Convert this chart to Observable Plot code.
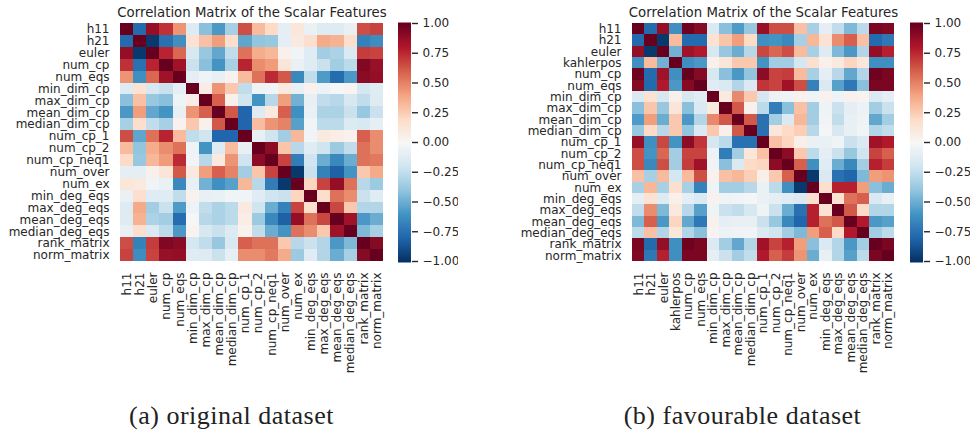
<!DOCTYPE html>
<html>
<head>
<meta charset="utf-8">
<script src="https://cdn.jsdelivr.net/npm/d3@7"></script>
<script src="https://cdn.jsdelivr.net/npm/@observablehq/plot@0.6"></script>
<style>
html,body{margin:0;padding:0;background:#fff;width:971px;height:430px;overflow:hidden}
#page{position:relative;width:971px;height:430px}
#page>div{position:absolute}
#page svg{display:block;background:transparent;max-width:none}
.cap{font-family:"Liberation Serif",serif;font-size:26px;color:#222;white-space:nowrap;text-align:center;letter-spacing:.5px}
</style>
</head>
<body>
<div id="page"></div>
<script>
const chartTitle = "Correlation Matrix of the Scalar Features";
const captionA = "(a) original dataset";
const captionB = "(b) favourable dataset";
const featuresA = ["h11","h21","euler","num_cp","num_eqs","min_dim_cp","max_dim_cp","mean_dim_cp","median_dim_cp","num_cp_1","num_cp_2","num_cp_neq1","num_over","num_ex","min_deg_eqs","max_deg_eqs","mean_deg_eqs","median_deg_eqs","rank_matrix","norm_matrix"];
const featuresB = ["h11","h21","euler","kahlerpos","num_cp","num_eqs","min_dim_cp","max_dim_cp","mean_dim_cp","median_dim_cp","num_cp_1","num_cp_2","num_cp_neq1","num_over","num_ex","min_deg_eqs","max_deg_eqs","mean_deg_eqs","median_deg_eqs","rank_matrix","norm_matrix"];

const matrixA = [
[1,-.78,.88,.73,.45,-.13,-.42,-.58,-.33,.65,.32,.2,-.1,.12,-.07,-.13,-.13,-.08,.65,.68],
[-.78,1,-.97,-.75,-.62,.15,.3,.42,.18,-.53,-.4,-.38,-.1,.1,.17,.38,.35,.18,-.68,-.63],
[.88,-.97,1,.77,.58,-.17,-.38,-.52,-.25,.55,.37,.33,.05,-.03,-.12,-.35,-.32,-.15,.7,.68],
[.73,-.75,.77,1,.85,-.22,-.42,-.6,-.33,.77,.47,.43,.13,-.07,-.12,-.22,-.35,-.27,.93,.87],
[.45,-.62,.58,.85,1,-.1,-.05,-.08,.04,.32,.55,.75,.62,-.65,-.25,-.57,-.77,-.58,.91,.88],
[-.13,.15,-.17,-.22,-.1,1,.08,.45,.27,-.25,-.05,-.03,.1,-.08,.04,-.06,-.01,.03,-.18,-.12],
[-.42,.3,-.38,-.42,-.05,.08,1,.6,.05,-.2,-.6,-.28,.42,-.48,-.08,-.25,-.28,-.17,-.25,-.13],
[-.58,.42,-.52,-.6,-.08,.45,.6,1,.62,-.8,-.13,.1,.6,-.62,-.07,-.32,-.32,-.22,-.38,-.22],
[-.33,.18,-.25,-.33,.04,.27,.05,.62,1,-.8,.31,.45,.5,-.55,-.03,-.27,-.27,-.14,-.16,-.09],
[.65,-.53,.55,.77,.32,-.25,-.2,-.8,-.8,1,-.08,-.2,-.35,.33,-.03,.1,.07,.04,.6,.47],
[.32,-.4,.37,.47,.55,-.05,-.6,-.13,.31,-.08,1,.9,.28,-.28,-.12,-.2,-.37,-.25,.55,.47],
[.2,-.38,.33,.43,.75,-.03,-.28,.1,.45,-.2,.9,1,.68,-.7,-.2,-.5,-.65,-.5,.55,.53],
[-.1,-.1,.05,.13,.62,.1,.42,.6,.5,-.35,.28,.68,1,-.97,-.22,-.68,-.82,-.6,.27,.38],
[.12,.1,-.03,-.07,-.65,-.08,-.48,-.62,-.55,.33,-.28,-.7,-.97,1,.22,.68,.88,.55,-.28,-.37],
[-.07,.17,-.12,-.12,-.25,.04,-.08,-.07,-.03,-.03,-.12,-.2,-.22,.22,1,.18,.55,.47,-.22,-.12],
[-.13,.38,-.35,-.22,-.57,-.06,-.25,-.32,-.27,.1,-.2,-.5,-.68,.68,.18,1,.67,.27,-.3,-.3],
[-.13,.35,-.32,-.35,-.77,-.01,-.28,-.32,-.27,.07,-.37,-.65,-.82,.88,.55,.67,1,.85,-.58,-.5],
[-.08,.18,-.15,-.27,-.58,.03,-.17,-.22,-.14,.04,-.25,-.5,-.6,.55,.47,.27,.85,1,-.45,-.33],
[.65,-.68,.7,.93,.91,-.18,-.25,-.38,-.16,.6,.55,.55,.27,-.28,-.22,-.3,-.58,-.45,1,.92],
[.68,-.63,.68,.87,.88,-.12,-.13,-.22,-.09,.47,.47,.53,.38,-.37,-.12,-.3,-.5,-.33,.92,1]
];

const matrixB = [
[1,-.78,.88,-.62,.98,.92,-.15,-.42,-.57,-.38,.87,.65,.65,.3,-.33,-.1,-.25,-.45,-.27,.95,.93],
[-.78,1,-.97,.32,-.78,-.78,.15,.28,.42,.2,-.62,-.6,-.65,-.33,.33,.15,.47,.6,.3,-.78,-.72],
[.88,-.97,1,-.48,.85,.8,-.17,-.38,-.5,-.28,.67,.58,.65,.32,-.33,-.13,-.45,-.58,-.3,.88,.78],
[-.62,.32,-.48,1,-.62,-.58,.05,.13,.27,.27,-.6,-.35,-.35,-.18,.17,.05,.1,.22,.12,-.62,-.62],
[.98,-.78,.85,-.62,1,.92,-.17,-.42,-.58,-.4,.9,.68,.7,.32,-.33,-.1,-.28,-.52,-.3,.98,.95],
[.92,-.78,.8,-.58,.92,1,-.12,-.15,-.3,-.15,.72,.68,.85,.65,-.68,-.15,-.55,-.72,-.42,.95,.95],
[-.15,.15,-.17,.05,-.17,-.12,1,.1,.48,.27,-.18,-.06,-.04,.04,-.05,.04,-.05,.04,.03,-.15,-.1],
[-.42,.28,-.38,.13,-.42,-.15,.1,1,.62,.05,-.27,-.7,-.42,.3,-.35,-.05,-.22,-.1,-.06,-.35,-.22],
[-.57,.42,-.5,.27,-.58,-.3,.48,.62,1,.62,-.75,-.35,-.15,.33,-.35,-.03,-.25,-.08,-.04,-.52,-.35],
[-.38,.2,-.28,.27,-.4,-.15,.27,.05,.62,1,-.75,.12,.2,.25,-.28,-.02,-.17,-.08,-.03,-.3,-.25],
[.87,-.62,.67,-.6,.9,.72,-.18,-.27,-.75,-.75,1,.3,.22,.06,-.07,-.07,-.05,-.22,-.15,.85,.8],
[.65,-.6,.58,-.35,.68,.68,-.06,-.7,-.35,.12,.3,1,.9,.27,-.27,-.1,-.22,-.38,-.2,.68,.6],
[.65,-.65,.65,-.35,.7,.85,-.04,-.42,-.15,.2,.22,.9,1,.6,-.62,-.12,-.5,-.65,-.35,.78,.7],
[.3,-.33,.32,-.18,.32,.65,.04,.3,.33,.25,.06,.27,.6,1,-.97,-.15,-.75,-.8,-.45,.42,.45],
[-.33,.33,-.33,.17,-.33,-.68,-.05,-.35,-.35,-.28,-.07,-.27,-.62,-.97,1,.17,.78,.78,.42,-.42,-.5],
[-.1,.15,-.13,.05,-.1,-.15,.04,-.05,-.03,-.02,-.07,-.1,-.12,-.15,.17,1,.15,.55,.6,-.15,-.08],
[-.25,.47,-.45,.1,-.28,-.55,-.05,-.22,-.25,-.17,-.05,-.22,-.5,-.75,.78,.15,1,.62,.2,-.3,-.3],
[-.45,.6,-.58,.22,-.52,-.72,.04,-.1,-.08,-.08,-.22,-.38,-.65,-.8,.78,.55,.62,1,.8,-.58,-.55],
[-.27,.3,-.3,.12,-.3,-.42,.03,-.06,-.04,-.03,-.15,-.2,-.35,-.45,.42,.6,.2,.8,1,-.35,-.27],
[.95,-.78,.88,-.62,.98,.95,-.15,-.35,-.52,-.3,.85,.68,.78,.42,-.42,-.15,-.3,-.58,-.35,1,.95],
[.93,-.72,.78,-.62,.95,.95,-.1,-.22,-.35,-.25,.8,.6,.7,.45,-.5,-.08,-.3,-.55,-.27,.95,1]
];

const colorDomain = [-1,-.8,-.6,-.4,-.2,0,.2,.4,.6,.8,1];
const colorRange = ["#053061","#2166ac","#4393c3","#92c5de","#d1e5f0","#f7f7f7","#fddbc7","#f4a582","#d6604d","#b2182b","#67001f"];
const barTicks = [-1,-.75,-.5,-.25,0,.25,.5,.75,1];
const barStops = d3.range(-120,121).map(v => v/120);

const inkColor = "#262626";
const font = "'DejaVu Sans',sans-serif";
const color = {type:"linear", domain:colorDomain, range:colorRange, clamp:true};
const page = document.getElementById("page");

function place(el,left,top){
  const d=document.createElement("div");
  d.style.left=left+"px"; d.style.top=top+"px";
  d.appendChild(el); page.appendChild(d);
}

function heatmap(features, matrix, plotLeft, plotRight){
  const cells = matrix.flatMap((row,i)=>row.map((v,j)=>({row:features[i],col:features[j],v})));
  return Plot.plot({
    width:plotRight+8, height:400,
    marginLeft:plotLeft, marginRight:8, marginTop:23, marginBottom:139,
    style:{fontFamily:font,fontSize:"12px",color:inkColor,background:"transparent"},
    x:{domain:features,padding:0,round:false,label:null},
    y:{domain:features,padding:0,round:false,label:null},
    color,
    marks:[
      Plot.cell(cells,{x:"col",y:"row",fill:"v",shapeRendering:"crispEdges"}),
      Plot.axisY({tickSize:0,tickPadding:11,label:null,fontSize:12,fill:inkColor}),
      Plot.axisX({tickSize:0,tickPadding:11,tickRotate:-90,label:null,fontSize:12,fill:inkColor}),
      Plot.text([chartTitle],{frameAnchor:"top",dy:-11,text:d=>d,fontSize:13.3,fill:inkColor,fontFamily:font,lineAnchor:"middle"})
    ]
  });
}

function colorbar(){
  return Plot.plot({
    width:60, height:290,
    marginLeft:0, marginRight:47, marginTop:23, marginBottom:29,
    style:{fontFamily:font,color:inkColor,background:"transparent"},
    y:{domain:[-1,1],label:null},
    color,
    marks:[
      Plot.ruleY(barStops,{y:d=>d,stroke:d=>d,strokeWidth:2}),
      Plot.axisY({anchor:"right",ticks:barTicks,tickFormat:d3.format(".2f"),tickSize:6,tickPadding:5,label:null,fontSize:12,stroke:inkColor,strokeWidth:1.4,fill:inkColor})
    ]
  });
}

place(heatmap(featuresA,matrixA,120,383),0,0);
place(colorbar(),398,0);
place(heatmap(featuresB,matrixB,120,382),512,0);
place(colorbar(),910,0);

[[captionA,231.5],[captionB,742.5]].forEach(([t,cx])=>{
  const c=document.createElement("div");
  c.className="cap"; c.textContent=t;
  c.style.left=(cx-150)+"px"; c.style.width="300px"; c.style.top="401px";
  page.appendChild(c);
});
</script>
</body>
</html>
